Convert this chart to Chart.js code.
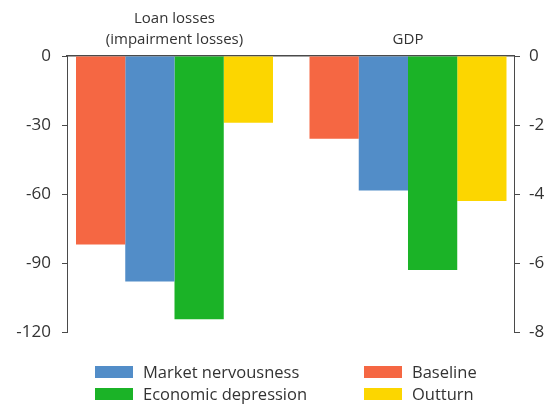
<!DOCTYPE html>
<html>
<head>
<meta charset="utf-8">
<script src="https://cdn.jsdelivr.net/npm/chart.js@4"></script>
<style>
  html, body { margin: 0; padding: 0; background: #fff; }
  #wrap { width: 556px; height: 405px; }
</style>
</head>
<body>
<div id="wrap"><canvas id="c" width="556" height="405"></canvas></div>
<script>
// Group headings (drawn as the top axis labels)
const groupLabels = [['Loan losses', '(impairment losses)'], 'GDP'];
// Scenarios, in bar order
const scenarios = ['Baseline', 'Market nervousness', 'Economic depression', 'Outturn'];
const scenarioColors = ['#F56743', '#528DC8', '#1BB327', '#FCD600'];
// Loan losses (left axis) and GDP (right axis) per scenario
const loanLosses = [-82, -98, -114.5, -29];
const gdp = [-2.4, -3.9, -6.2, -4.2];
// Axis ticks
const leftTicks = [0, -30, -60, -90, -120];
const rightTicks = [0, -2, -4, -6, -8];
// Legend layout order (two columns)
const legendOrder = ['Market nervousness', 'Economic depression', 'Baseline', 'Outturn'];

const FONT = '"Open Sans", "Noto Sans", sans-serif';
const TEXT = '#333333';
const AXIS = '#4a4a4a';

const datasets = [];
scenarios.forEach((name, i) => {
  datasets.push({
    label: name,
    data: [{ x: 0, y: loanLosses[i] }],
    backgroundColor: scenarioColors[i],
    yAxisID: 'yLeft',
    stack: name
  });
});
scenarios.forEach((name, i) => {
  datasets.push({
    label: name,
    data: [{ x: 1, y: gdp[i] }],
    backgroundColor: scenarioColors[i],
    yAxisID: 'yRight',
    stack: name
  });
});

// Two-column legend under the plot
const scenarioLegend = {
  id: 'scenarioLegend',
  afterDraw(chart) {
    const ctx = chart.ctx;
    ctx.save();
    ctx.font = '16.5px ' + FONT;
    ctx.textBaseline = 'middle';
    ctx.textAlign = 'left';
    const colX = [95, 364];
    const rowY = [372, 394];
    legendOrder.forEach((name, i) => {
      const col = Math.floor(i / 2), row = i % 2;
      const idx = scenarios.indexOf(name);
      ctx.fillStyle = scenarioColors[idx];
      ctx.fillRect(colX[col], rowY[row] - 6, 38, 12);
      ctx.fillStyle = TEXT;
      ctx.fillText(name, colX[col] + 48, rowY[row] + 1);
    });
    ctx.restore();
  }
};

new Chart(document.getElementById('c'), {
  type: 'bar',
  data: { datasets },
  plugins: [scenarioLegend],
  options: {
    responsive: false,
    animation: false,
    devicePixelRatio: 1,
    layout: { padding: { top: 2, left: 0, right: 0, bottom: 73 } },
    plugins: { legend: { display: false }, tooltip: { enabled: false } },
    datasets: { bar: { categoryPercentage: 0.8437, barPercentage: 1.0 } },
    scales: {
      x: {
        type: 'linear',
        position: 'top',
        min: -0.4604,
        max: 1.454,
        offset: false,
        grid: { display: false, drawTicks: false, offset: false },
        border: { display: true, color: AXIS, width: 1.5 },
        afterBuildTicks: s => { s.ticks = groupLabels.map((_, i) => ({ value: i })); },
        ticks: {
          autoSkip: false,
          maxRotation: 0,
          padding: 6,
          color: TEXT,
          font: { family: FONT, size: 15, lineHeight: 1.4 },
          callback: (v, i) => groupLabels[i]
        }
      },
      yLeft: {
        type: 'linear',
        position: 'left',
        min: -120,
        max: 0,
        afterBuildTicks: s => { s.ticks = leftTicks.map(v => ({ value: v })); },
        afterFit: s => { s.width = 67; },
        grid: { display: true, drawOnChartArea: false, drawTicks: true, tickLength: 5, color: AXIS, lineWidth: 1 },
        border: { display: true, color: AXIS, width: 1 },
        ticks: { padding: 11, color: TEXT, font: { family: FONT, size: 17 } }
      },
      yRight: {
        type: 'linear',
        position: 'right',
        min: -8,
        max: 0,
        afterBuildTicks: s => { s.ticks = rightTicks.map(v => ({ value: v })); },
        afterFit: s => { s.width = 42; },
        grid: { display: true, drawOnChartArea: false, drawTicks: true, tickLength: 6, color: AXIS, lineWidth: 1 },
        border: { display: true, color: AXIS, width: 1 },
        ticks: { padding: 9, color: TEXT, font: { family: FONT, size: 17 } }
      }
    }
  }
});
</script>
</body>
</html>
